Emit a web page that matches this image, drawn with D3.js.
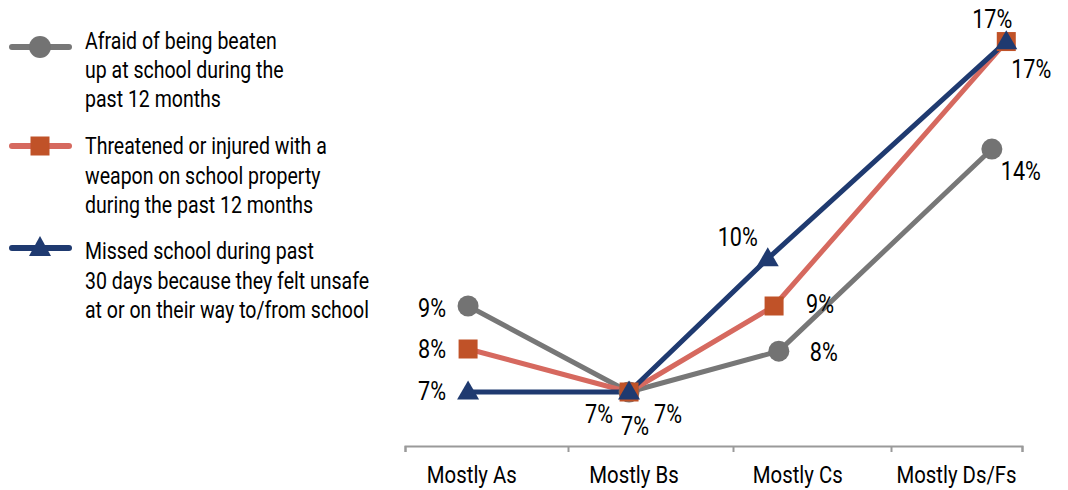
<!DOCTYPE html>
<html>
<head>
<meta charset="utf-8">
<script src="https://cdn.jsdelivr.net/npm/d3@7"></script>
<style>
  html, body { margin: 0; padding: 0; background: #ffffff; }
  svg { display: block; }
  text { font-family: "Roboto", "Liberation Sans", sans-serif; fill: #000; }
</style>
</head>
<body>
<svg id="chart" width="1068" height="490"></svg>
<script>
// ---- data ----
const categories = ["Mostly As", "Mostly Bs", "Mostly Cs", "Mostly Ds/Fs"];
const seriesNames = [
  ["Afraid of being beaten", "up at school during the", "past 12 months"],
  ["Threatened or injured with a", "weapon on school property", "during the past 12 months"],
  ["Missed school during past", "30 days because they felt unsafe", "at or on their way to/from school"]
];
// plotted heights (%), as drawn in the picture
const afraidValues     = [9.0, 7.0, 7.95, 12.65];
const threatenedValues = [8.0, 7.0, 9.0, 15.15];
const missedValues     = [7.0, 7.0, 10.1, 15.15];
// printed value labels
const afraidLabels     = ["9%", "7%", "8%", "14%"];
const threatenedLabels = ["8%", "7%", "9%", "17%"];
const missedLabels     = ["7%", "7%", "10%", "17%"];

// ---- layout ----
const svg = d3.select("#chart");
const axisFontSize = 24.5;
const labelFontSize = 26;
const legendFontSize = 23.5;

// condensed look: measure a reference line and squeeze horizontally
const probe = svg.append("text").style("font-size", legendFontSize + "px").text("Afraid of being beaten");
const squeeze = Math.min(1, 192 / probe.node().getComputedTextLength());
probe.remove();

function put(sel, fx, fy) {
  return sel.attr("x", 0).attr("y", 0)
    .attr("transform", (d, i) => `translate(${fx(d, i)},${fy(d, i)}) scale(${squeeze},1)`);
}

// category axis in band units (boundaries at integers)
const x = d3.scaleLinear().domain([0, 1, 2, 3, 4]).range([405, 568, 733, 891, 1022]);
const y = d3.scaleLinear().domain([7, 17]).range([392, -38]);
const axisY = 446;

// mark positions along category axis (band units)
const markX = [
  [0.387, 1.37, 2.29, 3.77],
  [0.387, 1.37, 2.26, 3.88],
  [0.387, 1.37, 2.22, 3.88]
];
const labelX = [0.41, 1.40, 2.41, 3.50];
// data label offsets from point (dx, dy to baseline)
const labelOffsets = [
  [[-36, 10], [-30, 30], [45, 9], [29, 30]],
  [[-36, 8], [6, 42], [46, 6], [25, 35]],
  [[-36, 7], [39, 30], [-30, -14], [-14, -15]]
];

const styles = [
  { line: "#777777", mark: "#737373", shape: "circle" },
  { line: "#d6695f", mark: "#c05228", shape: "square" },
  { line: "#1f3a70", mark: "#1f3a70", shape: "triangle" }
];
const allValues = [afraidValues, threatenedValues, missedValues];
const allLabels = [afraidLabels, threatenedLabels, missedLabels];

function drawMarker(g, shape, color, cx, cy, big) {
  if (shape === "circle") {
    g.append("circle").attr("cx", cx).attr("cy", cy).attr("r", big ? 11 : 10.5).attr("fill", color);
  } else if (shape === "square") {
    const s = 19;
    g.append("rect").attr("x", cx - s / 2).attr("y", cy - s / 2).attr("width", s).attr("height", s).attr("fill", color);
  } else {
    const w = big ? 22 : 22, h = big ? 20 : 19;
    g.append("path")
      .attr("d", `M${cx},${cy - h * 0.6}L${cx + w / 2},${cy + h * 0.4}L${cx - w / 2},${cy + h * 0.4}Z`)
      .attr("fill", color);
  }
}

// ---- axis ----
const axis = d3.axisBottom(x).tickValues([0, 1, 2, 3, 4]).tickFormat("").tickSizeOuter(0).tickSize(6);
const ag = svg.append("g").attr("transform", `translate(0,${axisY})`).call(axis);
ag.select(".domain").attr("stroke", "#9a9a9a").attr("stroke-width", 2);
ag.selectAll(".tick line").attr("stroke", "#9a9a9a").attr("stroke-width", 2);

put(svg.append("g").selectAll("text").data(categories).join("text")
  .attr("text-anchor", "middle")
  .style("font-size", axisFontSize + "px")
  .text(d => d), (d, i) => x(labelX[i]), () => 483);

// ---- lines & markers ----
const line = d3.line().x(d => x(d[0])).y(d => y(d[1]));
allValues.forEach((vals, s) => {
  const pts = vals.map((v, i) => [markX[s][i], v]);
  svg.append("path").datum(pts)
    .attr("d", line)
    .attr("fill", "none")
    .attr("stroke", styles[s].line)
    .attr("stroke-width", 5)
    .attr("stroke-linejoin", "round");
});
allValues.forEach((vals, s) => {
  const g = svg.append("g");
  vals.forEach((v, i) => drawMarker(g, styles[s].shape, styles[s].mark, x(markX[s][i]), y(v), false));
});

// ---- data labels ----
allValues.forEach((vals, s) => {
  put(svg.append("g").selectAll("text").data(vals).join("text")
    .attr("text-anchor", "middle")
    .style("font-size", labelFontSize + "px")
    .text((v, i) => allLabels[s][i]),
    (v, i) => x(markX[s][i]) + labelOffsets[s][i][0],
    (v, i) => y(v) + labelOffsets[s][i][1] + 1);
});

// ---- legend ----
const legendSymbolY = [47, 146, 248];
const legendTextY = [[49, 78, 107], [154, 184, 213], [259, 289, 318]];
seriesNames.forEach((lines, s) => {
  const g = svg.append("g");
  g.append("line").attr("x1", 12).attr("x2", 69)
    .attr("y1", legendSymbolY[s]).attr("y2", legendSymbolY[s])
    .attr("stroke", styles[s].line).attr("stroke-width", 6).attr("stroke-linecap", "round");
  drawMarker(g, styles[s].shape, styles[s].mark, 40, legendSymbolY[s], true);
  put(g.selectAll("text").data(lines).join("text")
    .style("font-size", legendFontSize + "px")
    .text(d => d), () => 85, (d, i) => legendTextY[s][i]);
});
</script>
</body>
</html>
